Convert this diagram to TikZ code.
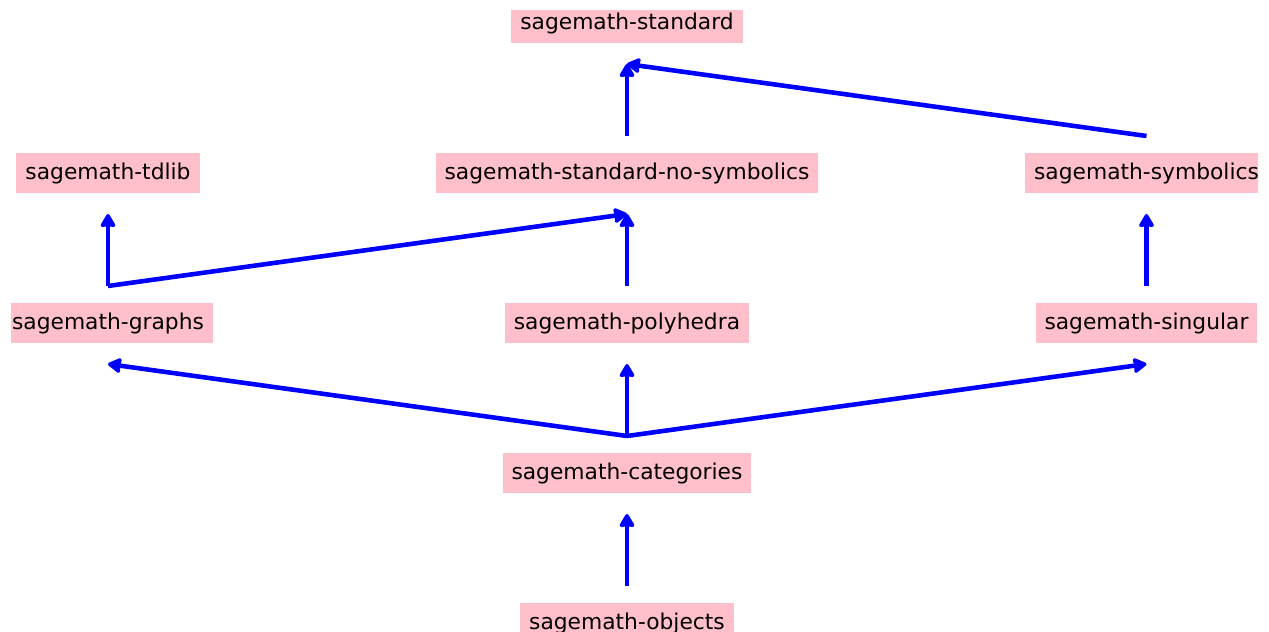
\documentclass[tikz,border=0pt]{standalone}
\usepackage{fontspec}
\setmainfont{DejaVu Sans}
\usetikzlibrary{arrows.meta,calc}
\definecolor{pkgpink}{HTML}{FFC0CB}
\begin{document}
\begin{tikzpicture}[
    pkg/.style={rectangle, fill=pkgpink, inner xsep=0.09cm, inner ysep=0pt, minimum height=0.4cm, font=\fontsize{6.2}{7.4}\selectfont},
    arrow/.style={-{Stealth[length=0.15cm, width=0.17cm, inset=0.01cm, round]}, line width=1.3pt, blue}
]
    \useasboundingbox (0,0) rectangle (12.69,6.32);
    \clip (0.11,0) rectangle (12.58,6.21);

    % Pacchetti
    \node[pkg] (std) at (6.27,6.09) {sagemath-standard};

    \node[pkg] (tdlib) at (1.08,4.59) {sagemath-tdlib};
    \node[pkg] (nosym) at (6.27,4.59) {sagemath-standard-no-symbolics};
    \node[pkg] (symb) at (11.465,4.59) {sagemath-symbolics};

    \node[pkg] (graphs) at (1.08,3.09) {sagemath-graphs};
    \node[pkg] (poly) at (6.27,3.09) {sagemath-polyhedra};
    \node[pkg] (sing) at (11.465,3.09) {sagemath-singular};

    \node[pkg] (cat) at (6.27,1.59) {sagemath-categories};
    \node[pkg] (obj) at (6.27,0.09) {sagemath-objects};

    % Dipendenze
    \draw[arrow] ($(obj.center)+(0,0.37)$) -- ($(cat.center)+(0,-0.41)$);

    \draw[arrow] ($(cat.center)+(0,0.37)$) -- ($(graphs.center)+(0,-0.41)$);
    \draw[arrow] ($(cat.center)+(0,0.37)$) -- ($(poly.center)+(0,-0.41)$);
    \draw[arrow] ($(cat.center)+(0,0.37)$) -- ($(sing.center)+(0,-0.41)$);

    \draw[arrow] ($(graphs.center)+(0,0.37)$) -- ($(tdlib.center)+(0,-0.41)$);
    \draw[arrow] ($(graphs.center)+(0,0.37)$) -- ($(nosym.center)+(0,-0.41)$);
    \draw[arrow] ($(poly.center)+(0,0.37)$) -- ($(nosym.center)+(0,-0.41)$);
    \draw[arrow] ($(sing.center)+(0,0.37)$) -- ($(symb.center)+(0,-0.41)$);

    \draw[arrow] ($(nosym.center)+(0,0.37)$) -- ($(std.center)+(0,-0.41)$);
    \draw[arrow] ($(symb.center)+(0,0.37)$) -- ($(std.center)+(0,-0.41)$);
\end{tikzpicture}
\end{document}
